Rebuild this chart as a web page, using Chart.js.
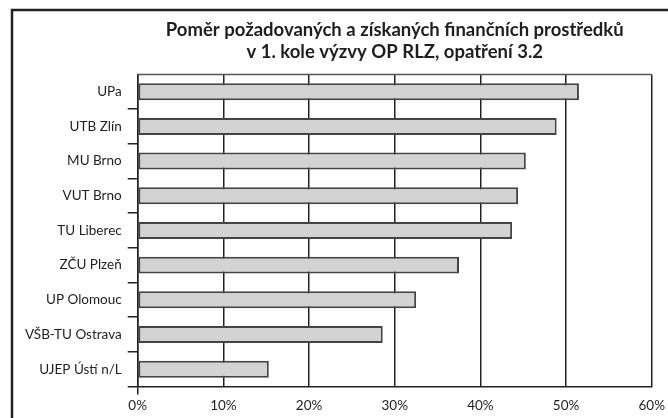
<!DOCTYPE html>
<html>
<head>
<meta charset="utf-8">
<script src="https://cdn.jsdelivr.net/npm/chart.js@4"></script>
<style>
  body { margin: 0; background: #fff; }
  #wrap { width: 668px; height: 418px; }
</style>
</head>
<body>
<div id="wrap"><canvas id="chart" width="668" height="418"></canvas></div>
<script>
// Data
const categories = ['UPa', 'UTB Zlín', 'MU Brno', 'VUT Brno', 'TU Liberec', 'ZČU Plzeň', 'UP Olomouc', 'VŠB-TU Ostrava', 'UJEP Ústí n/L'];
const ratios = [51.5, 48.9, 45.3, 44.4, 43.7, 37.5, 32.5, 28.6, 15.3];
const titleLines = ['Poměr požadovaných a získaných finančních prostředků', 'v 1. kole výzvy OP RLZ, opatření 3.2'];
const xMax = 60;
const xStep = 10;

const FONT = 'Lato, "Open Sans", sans-serif';
const INK = '#1e1e1e';

// Outer frame (only left and top edges visible) + top line of plot area
const framePlugin = {
    id: 'frame',
    beforeDraw(chart) {
        const ctx = chart.ctx;
        ctx.save();
        ctx.strokeStyle = '#222';
        ctx.lineWidth = 2.5;
        ctx.beginPath();
        ctx.moveTo(12, 418);
        ctx.lineTo(12, 10);
        ctx.lineTo(668, 10);
        ctx.stroke();
        ctx.restore();
    },
    afterDatasetsDraw(chart) {
        const a = chart.chartArea;
        const ctx = chart.ctx;
        ctx.save();
        ctx.strokeStyle = '#555';
        ctx.lineWidth = 1.5;
        ctx.beginPath();
        ctx.moveTo(a.left, a.top);
        ctx.lineTo(a.right, a.top);
        ctx.stroke();
        ctx.restore();
    }
};

// Center the title over the plot area instead of the whole canvas
const titleCenter = {
    id: 'titleCenter',
    afterLayout(chart) {
        const t = chart.titleBlock;
        if (t) {
            t.left = chart.chartArea.left;
            t.right = chart.chartArea.right;
            t.width = t.right - t.left;
        }
    }
};

new Chart(document.getElementById('chart'), {
    type: 'bar',
    data: {
        labels: categories,
        datasets: [{
            data: ratios,
            backgroundColor: '#d3d3d3',
            borderColor: '#444',
            borderWidth: 2,
            borderSkipped: false,
            barPercentage: 0.49,
            categoryPercentage: 1
        }]
    },
    options: {
        indexAxis: 'y',
        responsive: false,
        animation: false,
        layout: { padding: { top: 0, right: 13, bottom: 0, left: 0 } },
        plugins: {
            legend: { display: false },
            tooltip: { enabled: false },
            title: {
                display: true,
                text: titleLines,
                color: INK,
                font: { family: FONT, size: 18.5, weight: 'bold', lineHeight: 1.2 },
                padding: { top: 19, bottom: 11 }
            }
        },
        scales: {
            x: {
                min: 0,
                max: xMax,
                ticks: {
                    stepSize: xStep,
                    color: INK,
                    padding: 3,
                    font: { family: FONT, size: 13.5 },
                    callback: v => v + '%'
                },
                grid: {
                    color: '#222',
                    lineWidth: 1.5,
                    drawTicks: true,
                    tickLength: 8,
                    tickColor: c => c.index === 0 ? '#222' : 'transparent'
                },
                border: { display: true, color: '#222', width: 1.5 },
                afterFit(scale) { scale.height = 31.5; }
            },
            y: {
                ticks: {
                    color: INK,
                    padding: 6,
                    font: { family: FONT, size: 13.5 }
                },
                grid: {
                    drawOnChartArea: false,
                    drawTicks: true,
                    tickLength: 10,
                    lineWidth: 1.5,
                    tickColor: c => c.index === 0 ? 'transparent' : '#222'
                },
                border: { display: true, color: '#222', width: 1.5 },
                afterFit(scale) { scale.width = 137.7; }
            }
        }
    },
    plugins: [framePlugin, titleCenter]
});
</script>
</body>
</html>
